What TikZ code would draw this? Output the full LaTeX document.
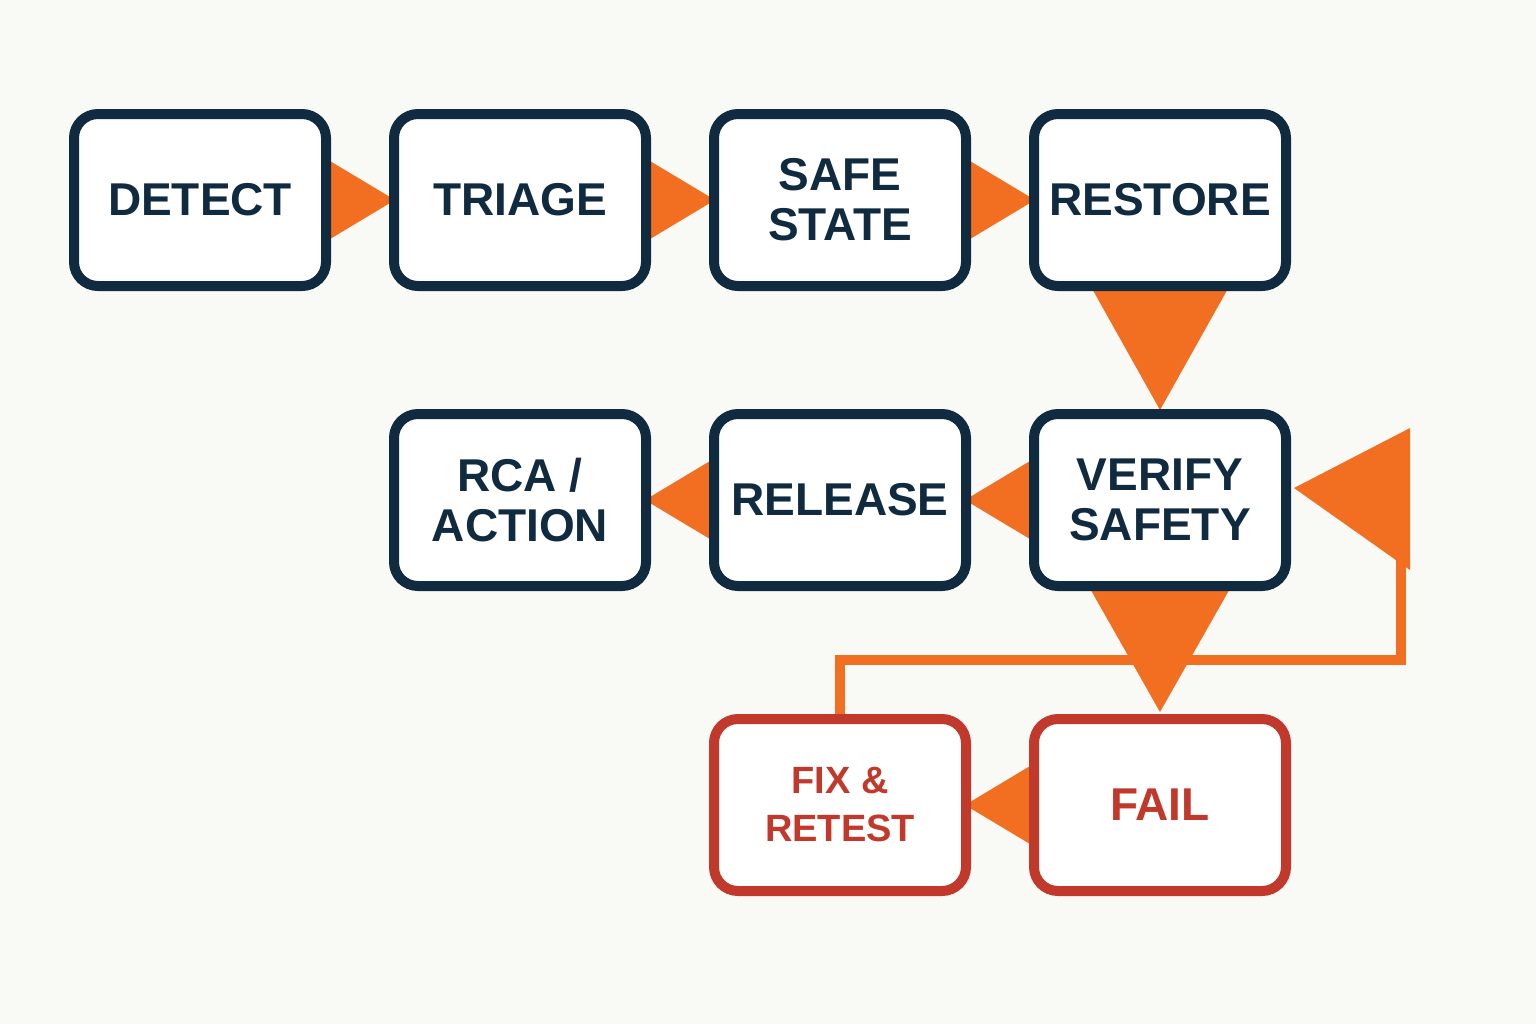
\documentclass[tikz,border=0pt]{standalone}
\usepackage{fontspec}
\setmainfont{Liberation Sans}
\usetikzlibrary{calc}
\definecolor{navy}{HTML}{102B40}
\definecolor{flow}{HTML}{F26F21}
\definecolor{failred}{HTML}{C0392B}
\definecolor{paper}{HTML}{F9F9F5}
\tikzset{
  stage/.style={draw=navy, line width=5pt, rounded corners=12pt, fill=white,
    minimum width=126pt, minimum height=86pt, align=center,
    font=\bfseries\fontsize{23}{25}\selectfont, text=navy},
  failbox/.style={stage, draw=failred, text=failred},
  arr/.style={fill=flow}
}
\begin{document}
\begin{tikzpicture}[x=0.5pt,y=-0.5pt]
  \fill[paper] (0,0) rectangle (1536,1024);
  \useasboundingbox (0,0) rectangle (1536,1024);
  % arrowheads (behind boxes)
  \coordinate (d) at (200,200);  \coordinate (t) at (520,200);
  \coordinate (s) at (840,200);  \coordinate (r) at (1160,200);
  \coordinate (a) at (520,500);  \coordinate (l) at (840,500);
  \coordinate (v) at (1160,500); \coordinate (x) at (840,805);
  \coordinate (f) at (1160,805);
  \foreach \p/\q in {d/t,t/s,s/r}
    \fill[arr] ($(\p)+(120,-45)$) -- ($(\q)+(-125,0)$) -- ($(\p)+(120,45)$) -- cycle;
  \foreach \p/\q in {v/l,l/a,f/x}
    \fill[arr] ($(\p)+(-120,-45)$) -- ($(\q)+(125,0)$) -- ($(\p)+(-120,45)$) -- cycle;
  \fill[arr] (1090,285) -- (1230,285) -- (1160,410) -- cycle;
  \fill[arr] (1088,585) -- (1232,585) -- (1160,712) -- cycle;
  % feedback loop
  \draw[flow, line width=5pt] (840,715) -- (840,660) -- (1401,660) -- (1401,560);
  \fill[arr] (1410,428) -- (1294,488) -- (1410,570) -- cycle;
  % stages
  \node[stage] (detect) at (d) {DETECT};
  \node[stage] (triage) at (t) {TRIAGE};
  \node[stage] (safe) at (s) {SAFE\\STATE};
  \node[stage] (restore) at (r) {RESTORE};
  \node[stage] (verify) at (v) {VERIFY\\SAFETY};
  \node[stage] (release) at (l) {RELEASE};
  \node[stage] (rca) at (a) {RCA /\\ACTION};
  \node[failbox, font=\bfseries\fontsize{19}{24}\selectfont] (fix) at (x) {FIX \&\\RETEST};
  \node[failbox] (fail) at (f) {FAIL};
\end{tikzpicture}
\end{document}
